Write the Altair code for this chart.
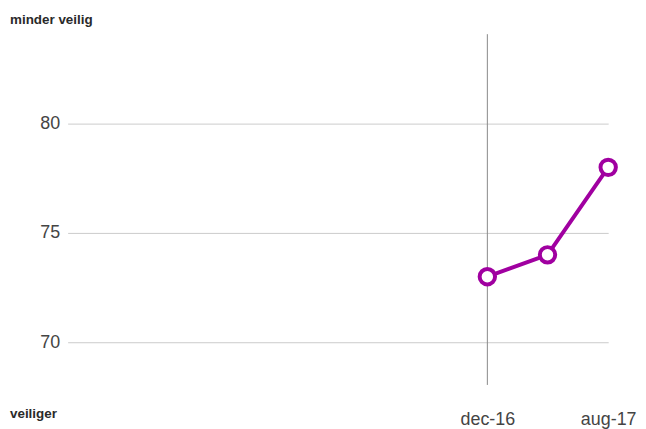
import altair as alt
import pandas as pd

dates = ["2016-12-01", "2017-04-01", "2017-08-01"]
values = [73, 74, 78]
tick_dates = ["2016-12-01", "2017-08-01"]
ref_date = ["2016-12-01"]
y_ticks = [70, 75, 80]

df = pd.DataFrame({"date": pd.to_datetime(dates), "value": values})
ref = pd.DataFrame({"date": pd.to_datetime(ref_date)})

x_scale = alt.Scale(domain=[pd.Timestamp("2014-08-10").isoformat(), pd.Timestamp("2017-08-01").isoformat()])
y_scale = alt.Scale(domain=[68.05, 84.09], nice=False, zero=False)

x_enc = alt.X("date:T", scale=x_scale,
              axis=alt.Axis(values=[pd.Timestamp(d).isoformat() for d in tick_dates],
                            labelExpr="['jan','feb','mrt','apr','mei','jun','jul','aug','sep','okt','nov','dec'][month(datum.value)] + '-' + timeFormat(datum.value, '%y')",
                            title=None, grid=False, domain=False, ticks=False,
                            labelPadding=26, labelFontSize=18, labelColor="#444",
                            labelFont="Liberation Sans", labelFlush=False))

y_enc = alt.Y("value:Q", scale=y_scale,
              axis=alt.Axis(values=y_ticks, title=None, domain=False, ticks=False,
                            grid=True, gridColor="#cccccc", gridWidth=1,
                            labelPadding=8, labelFontSize=18, labelColor="#444",
                            labelFont="Liberation Sans"))

rule = alt.Chart(ref).mark_rule(color="#888888", strokeWidth=1).encode(
    x=alt.X("date:T", scale=x_scale),
)

line = alt.Chart(df).mark_line(color="#a000a0", strokeWidth=4).encode(x=x_enc, y=y_enc)

points = alt.Chart(df).mark_point(shape="circle", filled=False, fill="white", fillOpacity=1,
                                  stroke="#a000a0", strokeWidth=4, size=240, opacity=1).encode(
    x=alt.X("date:T", scale=x_scale), y=alt.Y("value:Q", scale=y_scale))

top_txt = alt.Chart(pd.DataFrame({"t": ["minder veilig"]})).mark_text(
    align="left", baseline="middle", fontSize=13.5, fontWeight="bold", color="#2a2a2a",
    font="Liberation Sans").encode(text="t:N", x=alt.value(-58), y=alt.value(-14))

bot_txt = alt.Chart(pd.DataFrame({"t": ["veiliger"]})).mark_text(
    align="left", baseline="middle", fontSize=13.5, fontWeight="bold", color="#2a2a2a",
    font="Liberation Sans").encode(text="t:N", x=alt.value(-58), y=alt.value(382))

chart = alt.layer(line, rule, points, top_txt, bot_txt).properties(
    width=544, height=353,
    autosize=alt.AutoSizeParams(type="none"),
    padding={"left": 60, "top": 25, "right": 30, "bottom": 46},
).configure_view(stroke=None)

chart.save("out.html", embed_options={"renderer": "svg", "actions": False})
